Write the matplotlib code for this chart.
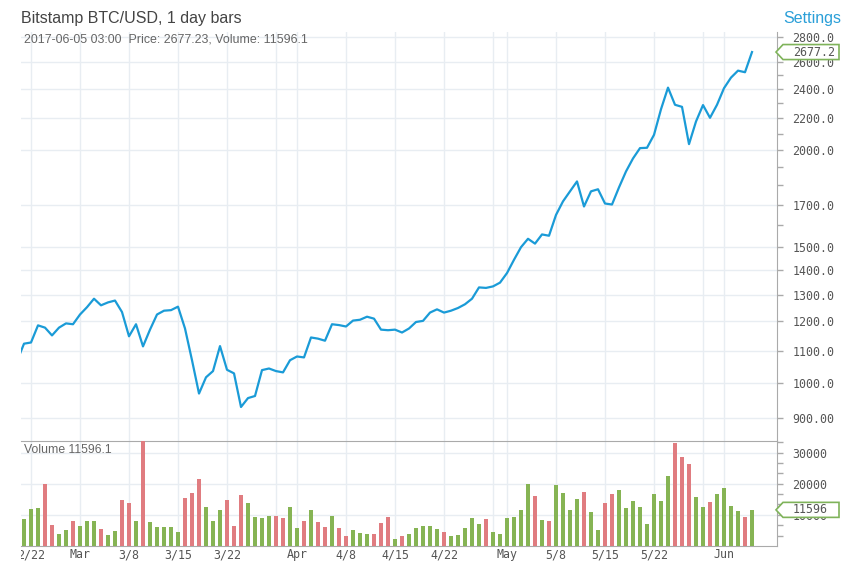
import numpy as np
import pandas as pd
import matplotlib
matplotlib.use("Agg")
import matplotlib.pyplot as plt
import matplotlib.dates as mdates
from matplotlib.patches import Polygon
from matplotlib.ticker import FixedLocator, FixedFormatter, NullFormatter
from matplotlib.transforms import IdentityTransform, TransformedBbox, Bbox

first_day = "2017-02-20"
last_day = "2017-06-05"

# daily close, Feb 20 .. Jun 5
prices = [
    1066, 1123, 1127, 1186, 1178, 1151, 1178, 1193, 1190,
    1225, 1252, 1284, 1259, 1270, 1277, 1234, 1148, 1190, 1114,
    1171, 1225, 1239, 1241, 1254, 1175, 1069, 968, 1016, 1035,
    1115, 1039, 1028, 930, 955, 961, 1038, 1043, 1035, 1031, 1069,
    1081, 1078, 1144, 1140, 1133, 1190, 1187, 1182, 1203, 1206,
    1217, 1210, 1171, 1169, 1171, 1161, 1175, 1198, 1202, 1232,
    1244, 1232, 1239, 1249, 1263, 1284, 1328, 1326, 1332, 1347,
    1386, 1442, 1497, 1535, 1513, 1555, 1549, 1648, 1716, 1768,
    1821, 1690, 1768, 1779, 1705, 1700, 1789, 1876, 1950, 2011,
    2013, 2092, 2258, 2408, 2288, 2274, 2035, 2177, 2286, 2201, 2288,
    2404, 2481, 2533, 2521, 2677.23,
]

# daily volume, Feb 21 .. Jun 5
volumes = [
    8700, 11900, 12300, 20000, 6800, 3900, 5200, 8100,
    6450, 8060, 8060, 5480, 3550, 4840, 14800, 13900, 8060, 34500,
    7740, 6130, 6130, 6130, 4520, 15500, 17100, 21600, 12600, 8060,
    11600, 14800, 6450, 16400, 13900, 9350, 9030, 9680, 9680, 9030, 12600,
    5800, 8060, 11600, 7740, 6130, 9680, 5800, 3230, 5160, 4190,
    3870, 3870, 7420, 9350, 2260, 3230, 3870, 5800, 6450, 6450,
    5480, 4520, 3230, 3550, 5800, 9030, 7100, 8710, 4520, 3870,
    9030, 9350, 11600, 20000, 16100, 8390, 8060, 19700, 17100, 11600,
    15200, 17400, 11000, 5160, 13900, 16800, 18100, 12300, 14500, 12600,
    7100, 16800, 14500, 22600, 33200, 28700, 26400, 15800, 12600, 14200, 16800,
    18700, 12900, 11300, 9350, 11596.1,
]

grid_days = ["2017-02-22", "2017-03-01", "2017-03-08", "2017-03-15",
             "2017-03-22", "2017-03-29", "2017-04-01", "2017-04-08",
             "2017-04-15", "2017-04-22", "2017-04-29", "2017-05-01",
             "2017-05-08", "2017-05-15", "2017-05-22", "2017-05-29",
             "2017-06-01"]
day_labels = ["2/22", "Mar", "3/8", "3/15", "3/22", "", "Apr", "4/8",
              "4/15", "4/22", "", "May", "5/8", "5/15", "5/22", "", "Jun"]

price_ticks = [900, 1000, 1100, 1200, 1300, 1400, 1500, 1700, 2000,
               2200, 2400, 2600, 2800]
price_minor = [1600, 1800, 1900, 2100, 2300, 2500, 2700]
vol_ticks = [10000, 20000, 30000]

W, H = 846, 572
BLUE = "#1a9bd7"
GREEN = "#86b454"
RED = "#e07c80"
GRID = "#e8edf2"
SPINE = "#aaaaaa"
LABEL = "#555555"


def box(x0, y0, x1, y1):
    return [x0 / W, 1 - y1 / H, (x1 - x0) / W, (y1 - y0) / H]


def marker(fig, ax, value, text):
    y = ax.transData.transform((0, value))[1]
    verts = [(776, y), (783, y + 7.5), (839, y + 7.5),
             (839, y - 7.5), (783, y - 7.5)]
    fig.add_artist(Polygon(verts, closed=True, transform=IdentityTransform(),
                           fc="white", ec="#7fb35a", lw=1.2, zorder=5))
    fig.text(793 / W, y / H, text, va="center", ha="left", size=8.4,
             color=LABEL, zorder=6)


def main():
    plt.rcParams["font.family"] = "DejaVu Sans Mono"
    dates = pd.date_range(first_day, last_day, freq="D")
    vol_dates = dates[1:]
    up = np.diff(prices) >= 0
    colors = [GREEN if u else RED for u in up]

    fig = plt.figure(figsize=(W / 100, H / 100), dpi=100)
    ax = fig.add_axes(box(21, 32, 777, 441))
    axv = fig.add_axes(box(21, 441, 777, 546), sharex=ax)

    ax.plot(dates, prices, color=BLUE, lw=1.6, zorder=3)
    axv.bar(vol_dates, volumes, width=0.67, color=colors, zorder=3)

    left = pd.Timestamp(first_day) + pd.Timedelta(hours=13.7)
    right = pd.Timestamp(last_day) + pd.Timedelta(days=3, hours=13.7)
    ax.set_xlim(left, right)

    grid_x = mdates.date2num(pd.to_datetime(grid_days))
    ax.xaxis.set_major_locator(FixedLocator(grid_x))
    ax.xaxis.set_major_formatter(FixedFormatter(day_labels))

    # price panel
    ax.set_yscale("log")
    ax.set_ylim(840.4, 2842)
    ax.yaxis.tick_right()
    ax.yaxis.set_major_locator(FixedLocator(price_ticks))
    ax.yaxis.set_major_formatter(FixedFormatter(
        [f"{v:.1f}" if v >= 1000 else f"{v:.2f}" for v in price_ticks]))
    ax.yaxis.set_minor_locator(FixedLocator(price_minor))
    ax.yaxis.set_minor_formatter(NullFormatter())
    ax.tick_params(axis="x", which="both", length=0, labelbottom=False)
    ax.tick_params(axis="y", which="both", direction="out", length=4,
                   width=1, color=SPINE, labelsize=8.4, labelcolor=LABEL,
                   pad=7)
    ax.grid(True, which="major", color=GRID, lw=1)
    ax.set_axisbelow(True)
    for side in ["left", "top", "bottom"]:
        ax.spines[side].set_visible(False)
    ax.spines["right"].set_color(SPINE)

    # volume panel
    axv.set_ylim(0, 33700)
    axv.yaxis.tick_right()
    axv.yaxis.set_major_locator(FixedLocator(vol_ticks))
    axv.yaxis.set_major_formatter(FixedFormatter([str(v) for v in vol_ticks]))
    axv.yaxis.set_minor_locator(FixedLocator(np.arange(1, 11) * 10000 / 3))
    axv.tick_params(axis="y", which="both", direction="out", length=4,
                    width=1, color=SPINE, labelsize=8.4, labelcolor=LABEL,
                    pad=7)
    axv.tick_params(axis="x", which="both", length=0, labelsize=8.4,
                    labelcolor=LABEL, pad=1.5)
    axv.grid(True, which="major", color=GRID, lw=1)
    axv.set_axisbelow(True)
    axv.spines["left"].set_visible(False)
    for side in ["top", "bottom", "right"]:
        axv.spines[side].set_color(SPINE)

    clip = TransformedBbox(Bbox([[0, -1], [1, 1]]), axv.transAxes)
    for lbl in axv.get_xticklabels():
        lbl.set_clip_box(clip)
        lbl.set_clip_on(True)

    # header texts
    fig.text(21 / W, 1 - 18 / H, "Bitstamp BTC/USD, 1 day bars",
             family="Liberation Sans", size=11.5, color="#444444",
             va="center")
    fig.text(24 / W, 1 - 39 / H,
             f"{dates[-1]:%Y-%m-%d} 03:00  Price: {prices[-1]:.2f}, "
             f"Volume: {volumes[-1]:.1f}",
             family="Liberation Sans", size=8.9, color="#666666",
             va="center")
    fig.text(841 / W, 1 - 18 / H, "Settings", family="Liberation Sans",
             size=11.5, color="#2a9fd8", ha="right", va="center")
    fig.text(24 / W, 1 - 450 / H, f"Volume {volumes[-1]:.1f}",
             family="Liberation Sans", size=8.8, color="#666666",
             va="center")

    marker(fig, ax, prices[-1], f"{prices[-1]:.1f}")
    marker(fig, axv, volumes[-1], f"{volumes[-1]:.0f}")

    fig.savefig("out.png", dpi=100)


if __name__ == "__main__":
    main()
